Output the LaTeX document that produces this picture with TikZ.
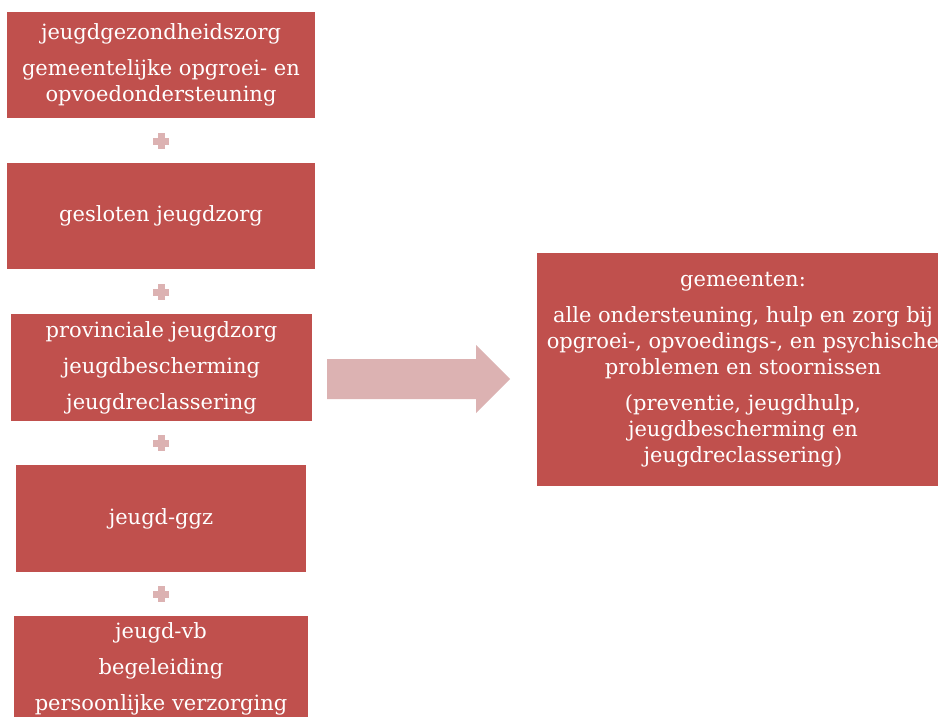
\documentclass[tikz,border=0pt]{standalone}
\usepackage{fontspec}
\setmainfont{DejaVu Serif}
\usetikzlibrary{positioning}
\definecolor{boxred}{RGB}{192,80,77}
\definecolor{rosepink}{RGB}{220,178,178}

\tikzset{
  redbox/.style={fill=boxred, draw=none, text=white, align=center,
    inner sep=0pt, font=\fontsize{21}{26}\selectfont},
  plusbar/.style={fill=rosepink, draw=none},
}
\newcommand{\plussign}[2]{%
  \fill[rosepink] (#1-8,#2-3.5) rectangle (#1+8,#2+3.5);
  \fill[rosepink] (#1-3.5,#2-8) rectangle (#1+3.5,#2+8);}

\begin{document}
\begin{tikzpicture}[x=1pt,y=-1pt]
  %%%%% START %%%%%
  \useasboundingbox (0,0) rectangle (938,717);
  \clip (0,0) rectangle (938,717);
  \def\cx{161}
  \def\gap{10pt}

  \node[redbox, minimum width=308, minimum height=106] (gezond) at (\cx,65)
    {jeugdgezondheidszorg\\[\gap]gemeentelijke opgroei- en\\opvoedondersteuning};
  \plussign{\cx}{141}
  \node[redbox, minimum width=308, minimum height=106] (gesloten) at (\cx,216)
    {gesloten jeugdzorg};
  \plussign{\cx}{292}
  \node[redbox, minimum width=301, minimum height=107] (provinciaal) at (161.5,367.5)
    {provinciale jeugdzorg\\[\gap]jeugdbescherming\\[\gap]jeugdreclassering};
  \plussign{\cx}{443}
  \node[redbox, minimum width=290, minimum height=107] (ggz) at (\cx,518.5)
    {jeugd-ggz};
  \plussign{\cx}{594}
  \node[redbox, minimum width=294, minimum height=106] (vb) at (\cx,669)
    {jeugd-vb\\[\gap]begeleiding\\[\gap]persoonlijke verzorging};

  % block arrow
  \fill[rosepink] (327,359) -- (476,359) -- (476,345) -- (510,379)
    -- (476,413) -- (476,399) -- (327,399) -- cycle;

  \node[redbox, minimum width=412, minimum height=233] (gemeenten) at (743,369.5)
    {gemeenten:\\[\gap]alle ondersteuning, hulp en zorg bij\\opgroei-, opvoedings-, en psychische\\problemen en stoornissen\\[\gap](preventie, jeugdhulp,\\jeugdbescherming en\\jeugdreclassering)};
  %%%%% END %%%%%
\end{tikzpicture}
\end{document}
